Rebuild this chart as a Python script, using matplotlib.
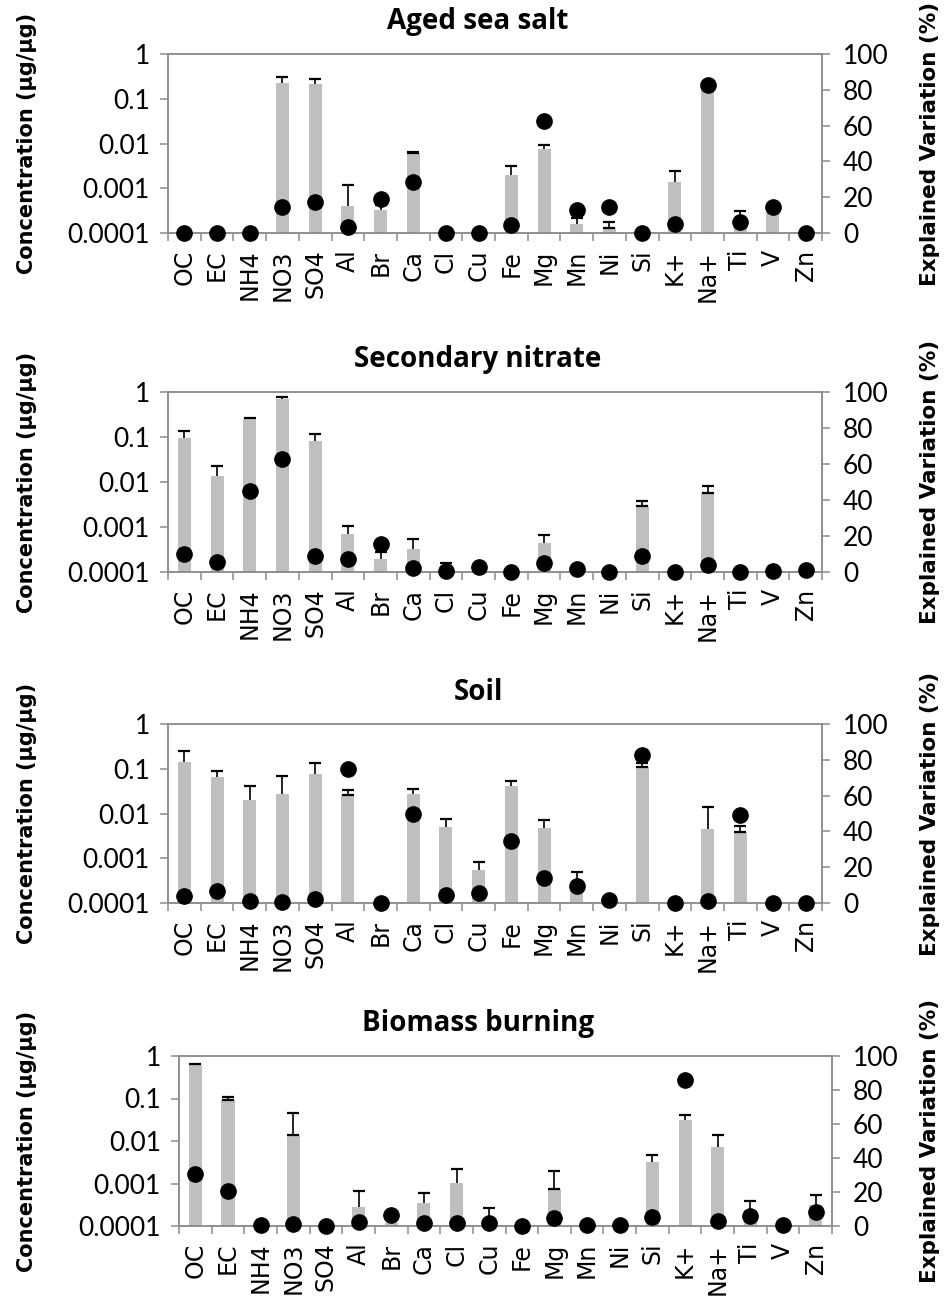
import numpy as np
import matplotlib
matplotlib.use('Agg')
import matplotlib.pyplot as plt
from matplotlib.ticker import FixedLocator, NullFormatter, FixedFormatter

# species on the x axis
species = ['OC', 'EC', 'NH4', 'NO3', 'SO4', 'Al', 'Br', 'Ca', 'Cl', 'Cu',
           'Fe', 'Mg', 'Mn', 'Ni', 'Si', 'K+', 'Na+', 'Ti', 'V', 'Zn']

titles = ['Aged sea salt', 'Secondary nitrate', 'Soil', 'Biomass burning']

# concentration (ug/ug), None = no bar
conc_sea = [None, None, None, 0.23, 0.21, 4.1e-4, 3.3e-4, 6.1e-3, None, None,
            2.0e-3, 7.7e-3, 1.6e-4, 1.3e-4, None, 1.37e-3, 0.18, 1.5e-4, 2.8e-4, None]
err_sea = [None, None, None, 0.07, 0.07, 8e-4, 9e-5, 5e-4, None, None,
           1.07e-3, 1.6e-3, 5.6e-5, 5e-5, None, 1.09e-3, 0.02, 1.65e-4, 2e-5, None]
ev_sea = [0, 0, 0, 14.5, 17.1, 3.2, 19.1, 28.3, 0, 0,
          4.5, 62.6, 13, 14.3, 0, 5, 82.7, 6.1, 14.3, 0]
lowcap_sea = ['Ca', 'Ni']

conc_nit = [0.097, 0.0137, 0.254, 0.71, 0.080, 7.1e-4, 1.9e-4, 3.2e-4, 1.2e-4, None,
            None, 4.4e-4, None, None, 2.98e-3, None, 5.6e-3, None, None, None]
err_nit = [0.037, 0.0093, 0.006, 0.06, 0.039, 3.6e-4, 9e-5, 2.2e-4, 4e-5, None,
           None, 2.1e-4, None, None, 8.8e-4, None, 2.6e-3, None, None, None]
ev_nit = [9.9, 5.8, 44.9, 62.9, 9.1, 7.4, 15.8, 2.4, 0.6, 2.8,
          0.2, 5, 1.5, 0, 8.8, 0.2, 4.1, 0.2, 0.5, 1.1]
lowcap_nit = ['Si', 'Na+']

conc_soil = [0.142, 0.065, 0.020, 0.0275, 0.077, 0.026, None, 0.0275, 4.96e-3, 5.4e-4,
             0.041, 4.8e-3, 2.2e-4, None, 0.108, None, 4.55e-3, 3.9e-3, None, None]
err_soil = [0.104, 0.023, 0.022, 0.0405, 0.058, 0.008, None, 0.008, 2.54e-3, 3.0e-4,
            0.011, 2.18e-3, 2.7e-4, None, 0.025, None, 9.75e-3, 1.4e-3, None, None]
ev_soil = [3.7, 6.9, 0.9, 0.6, 2.2, 74.9, 0, 49.6, 4.5, 5.8,
           34.8, 14.1, 9.7, 1.5, 82.7, 0, 1.3, 49.1, 0, 0]
lowcap_soil = ['Al', 'Si', 'Ti']

conc_bb = [0.61, 0.0898, None, 0.0138, None, 2.8e-4, 1.2e-4, 3.5e-4, 1.03e-3, 1.1e-4,
           None, 7.3e-4, None, None, 3.2e-3, 0.0306, 7.2e-3, 2.4e-4, None, 3.2e-4]
err_bb = [0.03, 0.021, None, 0.031, None, 4.0e-4, None, 2.4e-4, 1.2e-3, 1.5e-4,
          None, 1.24e-3, None, None, 1.5e-3, 0.0114, 6.9e-3, 1.5e-4, None, 2.1e-4]
ev_bb = [30.3, 20.3, 0.4, 1.0, 0, 2.2, 6.5, 1.6, 2.0, 1.6,
         0.2, 4.9, 0.4, 0.4, 5.5, 85.8, 3.1, 5.9, 0.4, 8.3]
lowcap_bb = ['EC', 'NO3', 'Mg']

W, H = 951, 1315
GREY = '#8c8c8c'


def draw_panel(fig, box, title, conc, err, ev, lowcap):
    left, right, top, bottom = box
    ax = fig.add_axes([left / W, 1 - bottom / H, (right - left) / W, (bottom - top) / H])
    x = np.arange(len(species))
    base = 1e-4
    c = np.array([np.nan if v is None else v for v in conc], dtype=float)
    e = np.array([0.0 if v is None else v for v in err], dtype=float)

    ax.set_yscale('log')
    ax.set_ylim(1e-4, 1)
    ax.set_xlim(-0.5, len(species) - 0.5)

    ok = ~np.isnan(c)
    ax.bar(x[ok], c[ok] - base, bottom=base, width=0.4, color='#bfbfbf', zorder=2)

    has = ok & (e > 0)
    ax.errorbar(x[has], c[has], yerr=[np.zeros(has.sum()), e[has]], fmt='none',
                ecolor='black', elinewidth=1.2, capsize=0, zorder=3)
    ax.plot(x[has], (c + e)[has], ls='none', marker='_', ms=8, mew=1.6,
            color='black', zorder=3)
    low = [species.index(s) for s in lowcap]
    ax.plot(x[low], c[low], ls='none', marker='_', ms=8, mew=1.6,
            color='black', zorder=3)

    # x axis: ticks between categories, labels at centres
    ax.xaxis.set_major_locator(FixedLocator(np.arange(len(species) + 1) - 0.5))
    ax.xaxis.set_major_formatter(NullFormatter())
    ax.xaxis.set_minor_locator(FixedLocator(x))
    ax.xaxis.set_minor_formatter(FixedFormatter(species))
    ax.tick_params(axis='x', which='major', length=6, width=1.1, color=GREY)
    ax.tick_params(axis='x', which='minor', length=0, pad=12, labelrotation=90,
                   labelsize=17, labelfontfamily='DejaVu Sans')

    ax.yaxis.set_major_locator(FixedLocator([1e-4, 1e-3, 1e-2, 1e-1, 1]))
    ax.yaxis.set_major_formatter(FixedFormatter(['0.0001', '0.001', '0.01', '0.1', '1']))
    ax.yaxis.set_minor_locator(FixedLocator([]))
    ax.tick_params(axis='y', length=6, width=1.1, color=GREY, pad=7,
                   labelsize=19, labelfontfamily='Lato')

    ax2 = ax.twinx()
    ax2.set_ylim(0, 100)
    ax2.plot(x, ev, ls='none', marker='o', ms=11, color='black', clip_on=False, zorder=4)
    ax2.set_yticks([0, 20, 40, 60, 80, 100])
    ax2.tick_params(axis='y', length=6, width=1.1, color=GREY, pad=9,
                    labelsize=19, labelfontfamily='Lato')

    for a in (ax, ax2):
        for sp in a.spines.values():
            sp.set_color(GREY)
            sp.set_linewidth(1.1)

    yc = 1 - (top + bottom) / 2 / H
    fig.text(27 / W, yc, 'Concentration (µg/µg)', rotation=90, ha='center', va='center',
             fontsize=15, fontweight='bold', fontfamily='DejaVu Sans')
    fig.text(930 / W, yc, 'Explained Variation (%)', rotation=90, ha='center', va='center',
             fontsize=15.5, fontweight='bold', fontfamily='DejaVu Sans')
    fig.text(478 / W, 1 - (top - 32) / H, title, ha='center', va='center',
             fontsize=20, fontweight='bold', fontfamily='Open Sans')
    return ax


fig = plt.figure(figsize=(W / 100, H / 100), dpi=100)

boxes = [(168, 822, 54, 233), (168, 822, 392, 572), (168, 822, 724, 903), (179, 832, 1056, 1226)]
data = [(conc_sea, err_sea, ev_sea, lowcap_sea),
        (conc_nit, err_nit, ev_nit, lowcap_nit),
        (conc_soil, err_soil, ev_soil, lowcap_soil),
        (conc_bb, err_bb, ev_bb, lowcap_bb)]

for box, title, d in zip(boxes, titles, data):
    draw_panel(fig, box, title, *d)

fig.savefig('out.png', dpi=100)
